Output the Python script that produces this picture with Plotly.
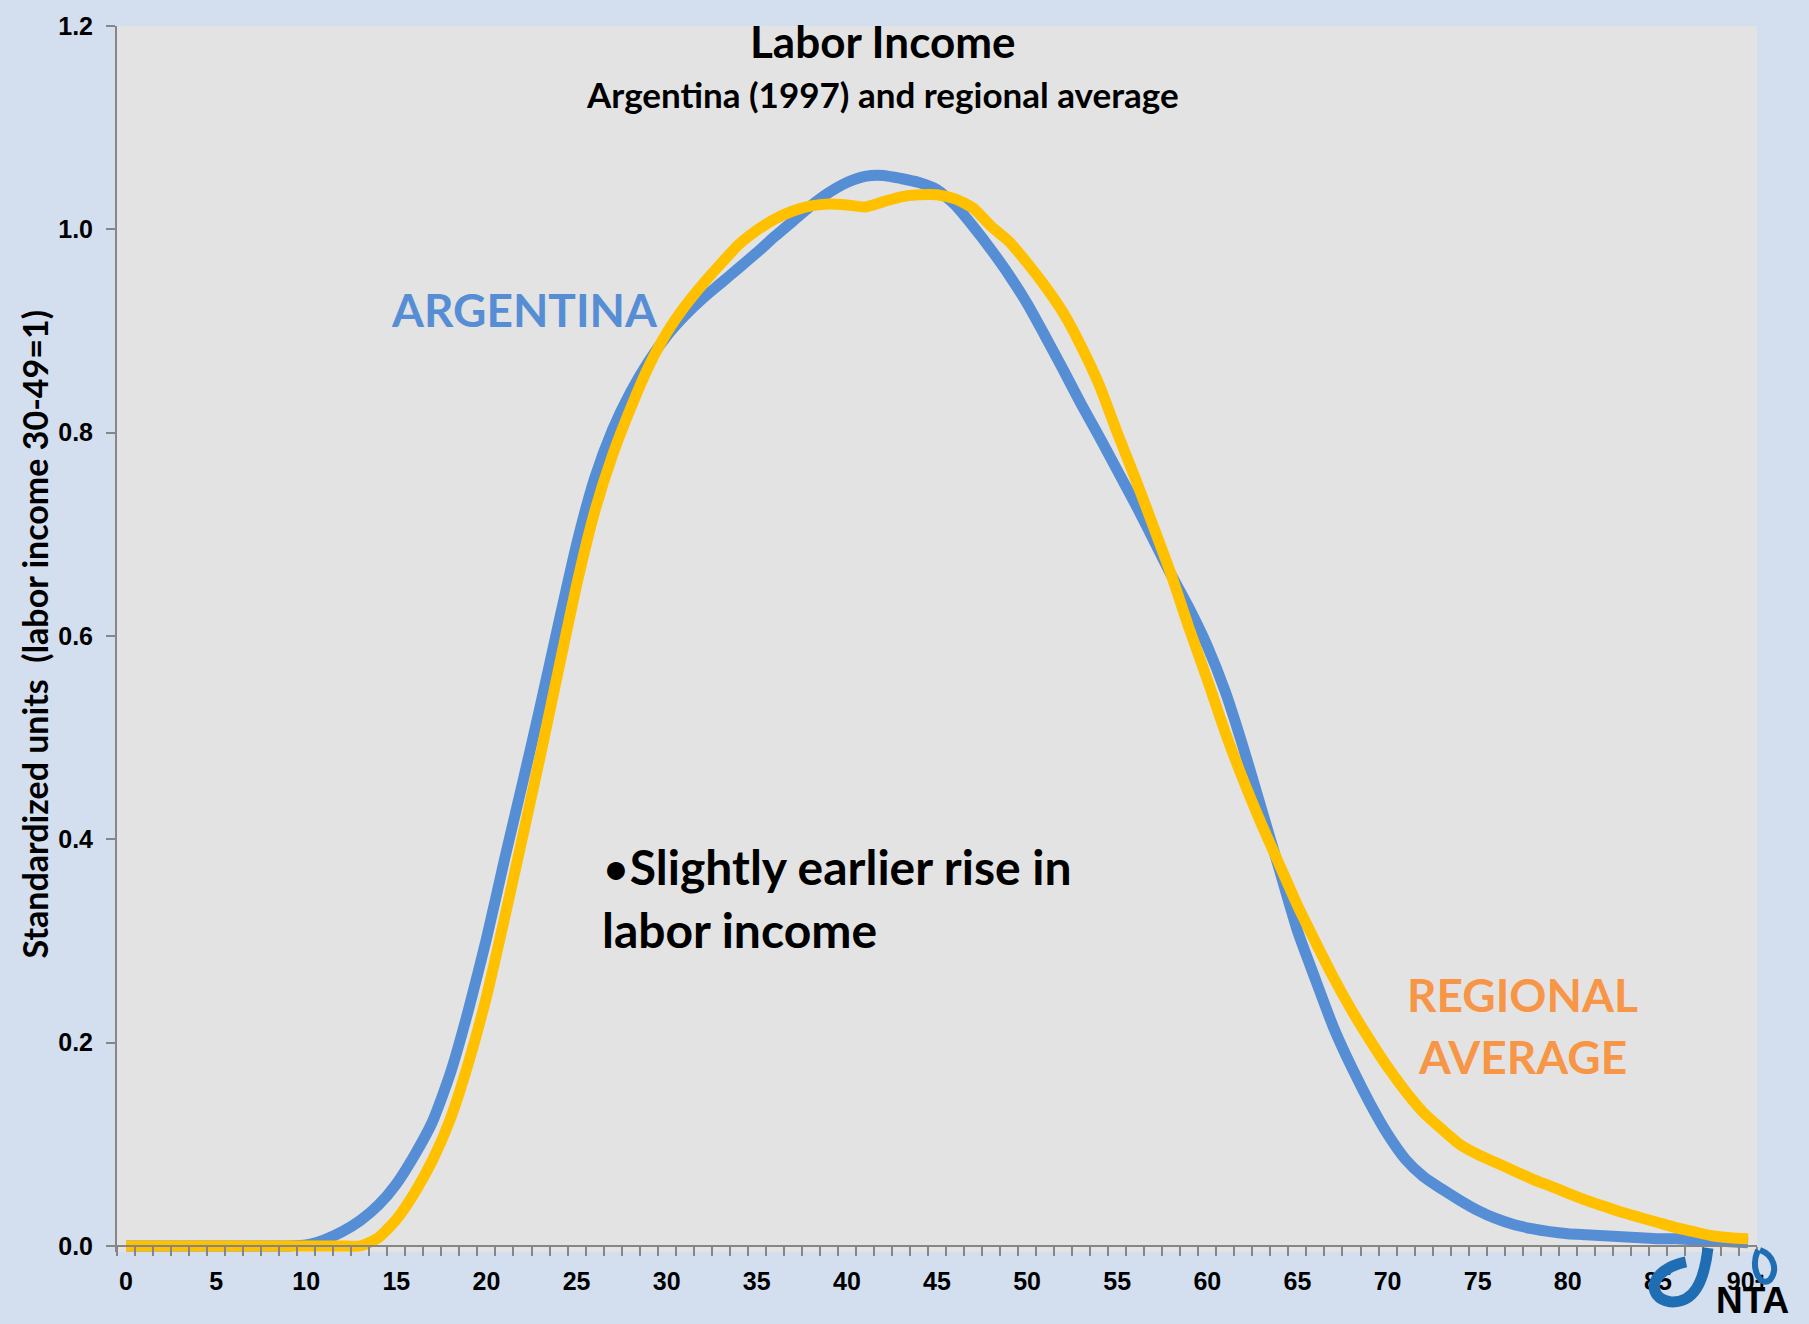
import plotly.graph_objects as go

ages = list(range(0, 91))
tick_vals = list(range(0, 91, 5))
tick_text = [str(v) for v in tick_vals[:-1]] + ["90+"]
y_ticks = [0.0, 0.2, 0.4, 0.6, 0.8, 1.0, 1.2]

argentina = [
    0, 0, 0, 0, 0, 0, 0, 0, 0, 0,                      # 0-9
    0.001, 0.006, 0.014, 0.025, 0.040, 0.061, 0.089, 0.122, 0.170, 0.232,   # 10-19
    0.302, 0.380, 0.455, 0.532, 0.612, 0.690, 0.755, 0.803, 0.840, 0.870,   # 20-29
    0.895, 0.915, 0.932, 0.947, 0.962, 0.977, 0.993, 1.008, 1.023, 1.036,   # 30-39
    1.046, 1.052, 1.053, 1.050, 1.046, 1.039, 1.024, 1.003, 0.980, 0.955,   # 40-49
    0.927, 0.895, 0.862, 0.828, 0.796, 0.763, 0.730, 0.695, 0.660, 0.627,   # 50-59
    0.590, 0.545, 0.490, 0.430, 0.370, 0.310, 0.262, 0.215, 0.176, 0.141,   # 60-69
    0.110, 0.085, 0.068, 0.056, 0.045, 0.035, 0.027, 0.021, 0.017, 0.014,   # 70-79
    0.012, 0.011, 0.010, 0.009, 0.008, 0.007, 0.007, 0.006, 0.005, 0.004,   # 80-89
    0.003,                                                                  # 90+
]

regional = [
    0, 0, 0, 0, 0, 0, 0, 0, 0, 0,                      # 0-9
    0, 0, 0, 0, 0.008, 0.026, 0.052, 0.084, 0.125, 0.180,                   # 10-19
    0.245, 0.322, 0.402, 0.483, 0.567, 0.650, 0.722, 0.778, 0.824, 0.865,   # 20-29
    0.898, 0.924, 0.946, 0.966, 0.985, 0.999, 1.010, 1.018, 1.023, 1.025,   # 30-39
    1.024, 1.022, 1.027, 1.032, 1.034, 1.034, 1.030, 1.021, 1.003, 0.988,   # 40-49
    0.967, 0.944, 0.918, 0.885, 0.847, 0.800, 0.755, 0.708, 0.660, 0.607,   # 50-59
    0.557, 0.505, 0.458, 0.415, 0.375, 0.335, 0.299, 0.264, 0.232, 0.203,   # 60-69
    0.176, 0.152, 0.131, 0.115, 0.100, 0.090, 0.082, 0.074, 0.066, 0.059,   # 70-79
    0.052, 0.045, 0.039, 0.033, 0.028, 0.023, 0.018, 0.014, 0.010, 0.008,   # 80-89
    0.007,                                                                  # 90+
]

BLUE = "#558ED5"
YELLOW = "#FFC000"
ORANGE = "#F79646"
AXIS = "#868686"
FONT = "Lato"
TICKFONT = "Liberation Sans Narrow, Arial Narrow, Liberation Sans"

W, H = 1809, 1324
ML, MR, MT, MB = 117, 52, 21, 72
YMIN, YMAX = -0.006, 1.2


def px2paper(px, py):
    return ((px - ML) / (W - ML - MR), ((H - MB) - py) / (H - MT - MB))


def py2y(py):
    return (1246 - py) / 1020.8


fig = go.Figure()
fig.add_trace(go.Scatter(x=ages, y=argentina, mode="lines", name="Argentina",
                         line=dict(color=BLUE, width=11, shape="spline", smoothing=0.6)))
fig.add_trace(go.Scatter(x=ages, y=regional, mode="lines", name="Regional average",
                         line=dict(color=YELLOW, width=11, shape="spline", smoothing=0.6)))

annotations = [
    dict(text="<b>Labor Income</b>", x=42.0, y=py2y(36), xref="x", yref="y",
         showarrow=False, font=dict(family=FONT, size=44, color="black")),
    dict(text="<b>Argentina (1997) and regional average</b>", x=42.0, y=py2y(89), xref="x", yref="y",
         showarrow=False, font=dict(family=FONT, size=35, color="black")),
    dict(text="<b>ARGENTINA</b>", x=22.1, y=py2y(306), xref="x", yref="y",
         showarrow=False, font=dict(family=FONT, size=46, color=BLUE)),
    dict(text="<b>REGIONAL</b>", x=77.5, y=py2y(994), xref="x", yref="y",
         showarrow=False, font=dict(family=FONT, size=46, color=ORANGE)),
    dict(text="<b>AVERAGE</b>", x=77.5, y=py2y(1056), xref="x", yref="y",
         showarrow=False, font=dict(family=FONT, size=46, color=ORANGE)),
    dict(text="•<b>Slightly earlier rise in</b>", x=26.3, y=py2y(865), xref="x", yref="y",
         xanchor="left", showarrow=False, font=dict(family=FONT, size=48, color="black")),
    dict(text="<b>labor income</b>", x=26.3, y=py2y(928), xref="x", yref="y",
         xanchor="left", showarrow=False, font=dict(family=FONT, size=48, color="black")),
]
ax, ay = px2paper(35, 632)
annotations.append(dict(text="<b>Standardized units  (labor income 30-49=1)</b>", x=ax, y=ay,
                        xref="paper", yref="paper", xanchor="center", yanchor="middle",
                        textangle=-90, showarrow=False,
                        font=dict(family=FONT, size=34, color="black")))
nx, ny = px2paper(1752, 1301)
annotations.append(dict(text="<b>NTA</b>", x=nx, y=ny, xref="paper", yref="paper",
                        xanchor="center", yanchor="middle",
                        showarrow=False, font=dict(family="Liberation Sans", size=37, color="black")))


# NTA logo swirl (decorative)
def path_from(points):
    pts = [px2paper(px, py) for px, py in points]
    s = "M %f,%f" % pts[0]
    for i in range(1, len(pts), 3):
        s += " C %f,%f %f,%f %f,%f" % (pts[i] + pts[i + 1] + pts[i + 2])
    return s


swirl1 = [(1708, 1248), (1704, 1282), (1694, 1304), (1670, 1302),
          (1646, 1298), (1648, 1270), (1686, 1262)]
swirl2 = [(1758, 1250), (1750, 1268), (1760, 1288), (1770, 1280),
          (1778, 1270), (1774, 1255), (1760, 1250)]
shapes = [
    dict(type="path", path=path_from(swirl1), xref="paper", yref="paper",
         line=dict(color="#1F6EB4", width=11), layer="above"),
    dict(type="path", path=path_from(swirl2), xref="paper", yref="paper",
         line=dict(color="#1F6EB4", width=6), layer="above"),
]

fig.update_layout(
    width=W, height=H,
    margin=dict(l=ML, r=MR, t=MT, b=MB),
    paper_bgcolor="#D3DEEE",
    plot_bgcolor="#E3E3E3",
    showlegend=False,
    annotations=annotations,
    shapes=shapes,
    xaxis=dict(
        range=[-0.5, 90.5], tickmode="array", tickvals=tick_vals, ticktext=tick_text,
        ticks="", showgrid=False, zeroline=False,
        showline=True, linecolor=AXIS, linewidth=2,
        anchor="free", position=(0 - YMIN) / (YMAX - YMIN),
        tickfont=dict(family=TICKFONT, size=25, color="black", weight="bold"),
        ticklabelstandoff=13,
        minor=dict(ticks="outside", ticklen=9, tickwidth=2, tickcolor=AXIS,
                   tick0=0.5, dtick=1, showgrid=False),
    ),
    yaxis=dict(
        range=[YMIN, YMAX], tickmode="array", tickvals=y_ticks,
        ticktext=["%.1f" % v for v in y_ticks],
        ticks="outside", ticklen=9, tickwidth=2, tickcolor=AXIS,
        showgrid=False, zeroline=False,
        showline=True, linecolor=AXIS, linewidth=2,
        tickfont=dict(family=TICKFONT, size=25, color="black", weight="bold"),
        ticklabelstandoff=8,
    ),
)

fig.write_html("out.html", config={"displayModeBar": False},
               post_script="document.body.style.margin='0px';")
